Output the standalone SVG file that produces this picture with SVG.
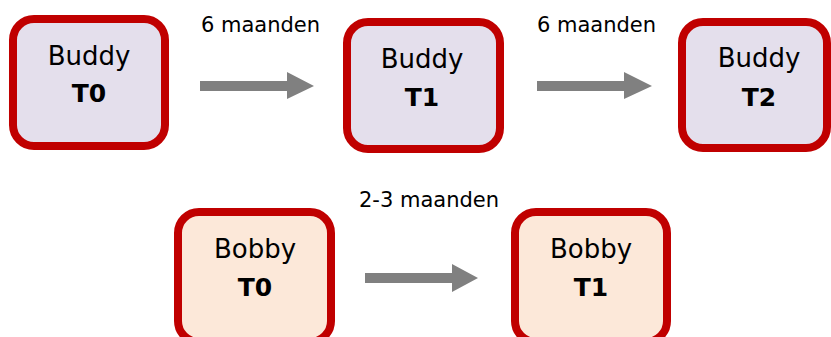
<svg xmlns="http://www.w3.org/2000/svg" width="831" height="337" viewBox="0 0 831 337">
<style>
.box{stroke:#C00000;stroke-width:8}
.buddy{fill:#E4DFEC}
.bobby{fill:#FCE8D9}
.t{font-family:"DejaVu Sans",Verdana,sans-serif;font-size:26px;fill:#000;text-anchor:middle}
.b{font-weight:bold;font-size:25px}
.lbl{font-family:"DejaVu Sans",Verdana,sans-serif;font-size:21px;fill:#000}
.arrow{fill:#808080}
</style>
<rect width="831" height="337" fill="#fff"/>
<g id="buddy-t0">
<rect class="box buddy" x="13" y="19" width="152" height="127" rx="21"/>
<text class="t" x="89" y="65">Buddy</text>
<text class="t b" x="89" y="102">T0</text>
</g>
<g id="buddy-t1">
<rect class="box buddy" x="347" y="22" width="153" height="127" rx="21"/>
<text class="t" x="422" y="68">Buddy</text>
<text class="t b" x="422" y="106">T1</text>
</g>
<g id="buddy-t2">
<rect class="box buddy" x="682" y="22" width="145" height="126" rx="21"/>
<text class="t" x="759" y="67">Buddy</text>
<text class="t b" x="759" y="106">T2</text>
</g>
<g id="bobby-t0">
<rect class="box bobby" x="178" y="212" width="153" height="130" rx="21"/>
<text class="t" x="255" y="258">Bobby</text>
<text class="t b" x="255" y="296">T0</text>
</g>
<g id="bobby-t1">
<rect class="box bobby" x="515" y="212" width="152" height="130" rx="21"/>
<text class="t" x="591" y="258">Bobby</text>
<text class="t b" x="591" y="296">T1</text>
</g>
<g id="connectors">
<polygon class="arrow" points="200,81 287,81 287,72 314,86 287,99 287,91 200,91"/>
<polygon class="arrow" points="537,81 624,81 624,72 652,86 624,99 624,91 537,91"/>
<polygon class="arrow" points="365,273 452,273 452,264 478,278 452,292 452,283 365,283"/>
<text class="lbl" x="201" y="32">6 maanden</text>
<text class="lbl" x="537" y="32">6 maanden</text>
<text class="lbl" x="359" y="207">2-3 maanden</text>
</g>
</svg>
